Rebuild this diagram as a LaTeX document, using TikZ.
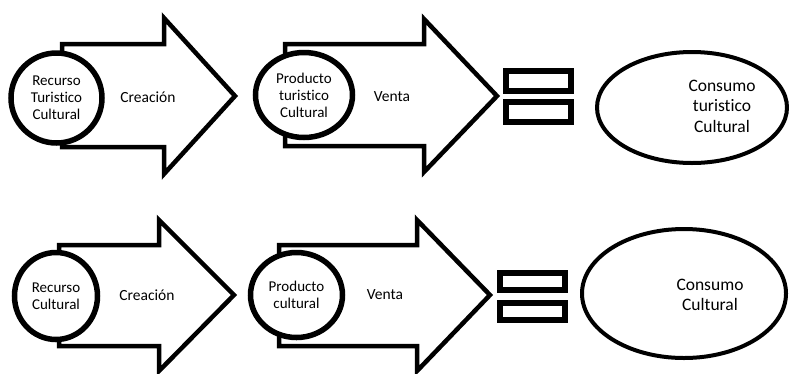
\documentclass[tikz,border=0pt]{standalone}
\usepackage{fontspec}
\setmainfont{Carlito}[Ligatures=NoCommon]
\usetikzlibrary{shapes.geometric}
\begin{document}
\begin{tikzpicture}[x=1pt,y=-1pt,
  flow/.style={draw=black, line width=4.5pt, fill=white, line join=miter},
  stage/.style={ellipse, draw=black, line width=5.5pt, fill=white, inner sep=0pt,
    align=center, font=\fontsize{15}{17}\selectfont},
  bar/.style={rectangle, draw=black, line width=6pt, fill=white,
    minimum width=65pt, inner sep=0pt},
  goal/.style={ellipse, draw=black, line width=4pt, fill=white, inner sep=0pt},
  steplabel/.style={font=\fontsize{15.5}{18}\selectfont},
  goaltext/.style={align=center, font=\fontsize{17.5}{20.5}\selectfont}
]
\useasboundingbox (0,0) rectangle (789,373);

% ---- upper chain ----
\draw[flow] (62,44) -- (164,44) -- (164,18) -- (235,96) -- (164,174)
  -- (164,147) -- (62,147) -- cycle;
\draw[flow] (285,44) -- (424,44) -- (424,19) -- (497,96) -- (424,172)
  -- (424,146) -- (285,146) -- cycle;

\node[stage, minimum width=91pt, minimum height=90pt] (rtc) at (56.5,98)
  {Recurso\\Turistico\\Cultural};
\node[stage, minimum width=97pt, minimum height=85pt] (ptc) at (304,95)
  {Producto\\turistico\\Cultural};
\node[steplabel] (cre1) at (148,97) {Creación};
\node[steplabel] (ven1) at (392,97) {Venta};

\node[bar, minimum height=20pt] (eq1a) at (538.5,81) {};
\node[bar, minimum height=20pt] (eq1b) at (538.5,112) {};

\node[goal, minimum width=190pt, minimum height=111pt] (ctc) at (692,107.5) {};
\node[goaltext] (ctct) at (722,106) {Consumo\\turistico\\Cultural};

% ---- lower chain ----
\draw[flow] (59,245) -- (159,245) -- (159,220) -- (234,295) -- (159,371)
  -- (159,346) -- (59,346) -- cycle;
\draw[flow] (279,245) -- (417,245) -- (417,220) -- (490,295) -- (417,371)
  -- (417,346) -- (279,346) -- cycle;

\node[stage, minimum width=83pt, minimum height=87pt] (rc) at (56,296)
  {Recurso\\Cultural};
\node[stage, minimum width=92pt, minimum height=85pt] (pc) at (296.5,295)
  {Producto\\cultural};
\node[steplabel] (cre2) at (147,295) {Creación};
\node[steplabel] (ven2) at (385,295) {Venta};

\node[bar, minimum height=17pt] (eq2a) at (532.5,281.5) {};
\node[bar, minimum height=17pt] (eq2b) at (532.5,311) {};

\node[goal, minimum width=204pt, minimum height=129pt] (cc) at (684,293.5) {};
\node[goaltext] (cct) at (710,295) {Consumo\\Cultural};
\end{tikzpicture}
\end{document}
